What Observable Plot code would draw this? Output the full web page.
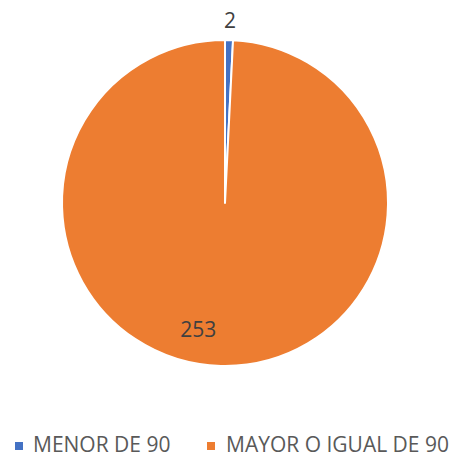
<!DOCTYPE html>
<html>
<head>
<meta charset="utf-8">
<script src="https://cdn.jsdelivr.net/npm/d3@7"></script>
<script src="https://cdn.jsdelivr.net/npm/@observablehq/plot@0.6"></script>
<style>
  html, body { margin: 0; padding: 0; background: #fff; }
  #chart { width: 451px; height: 456px; position: relative; font-family: "Open Sans", sans-serif; overflow: hidden; }
  .legend { position: absolute; left: 0; top: 420px; width: 451px; height: 36px; font-size: 21px; color: #595959; }
  .sw { position: absolute; width: 8px; height: 8px; top: 21.5px; }
  .tx { position: absolute; display: block; top: 13.5px; height: 21px; line-height: 21px; white-space: nowrap; }
</style>
</head>
<body>
<div id="chart"></div>
<script>
const categories = ["MENOR DE 90", "MAYOR O IGUAL DE 90"];
const values = [2, 253];
const colors = ["#4472C4", "#ED7D31"];

const data = categories.map((c, i) => ({category: c, value: values[i], color: colors[i]}));
const pie = d3.pie().sort(null).value(d => d.value)(data);

const W = 451, H = 420;
const labelR = [1.12, 0.78];
const labelDx = [0, -24];
const labels = pie.map((p, i) => {
  const a = (p.startAngle + p.endAngle) / 2;
  return {text: String(p.data.value), x: labelR[i] * Math.sin(a), y: labelR[i] * Math.cos(a), dx: labelDx[i]};
});

function pieMark(index, scales, values, dimensions) {
  const cx = scales.x(0), cy = scales.y(0);
  const r = Math.abs(scales.x(1) - scales.x(0));
  const arc = d3.arc().innerRadius(0).outerRadius(r);
  const g = d3.create("svg:g").attr("transform", `translate(${cx},${cy})`);
  g.selectAll("path").data(pie).join("path")
    .attr("d", arc)
    .attr("fill", d => d.data.color)
    .attr("stroke", "#fff")
    .attr("stroke-width", 2)
    .attr("stroke-linejoin", "round");
  return g.node();
}

const plot = Plot.plot({
  width: W,
  height: H,
  marginLeft: 62,
  marginRight: 63,
  marginTop: 40,
  marginBottom: 54,
  x: {domain: [-1, 1], axis: null},
  y: {domain: [-1, 1], axis: null},
  style: {fontFamily: "Open Sans, sans-serif", background: "#fff"},
  marks: [
    pieMark,
    Plot.text(labels.filter((d, i) => i === 0), {x: "x", y: "y", text: "text", fontSize: 21, fill: "#404040"}),
    Plot.text(labels.filter((d, i) => i === 1), {x: "x", y: "y", text: "text", fontSize: 21, fill: "#404040", dx: labelDx[1]})
  ]
});

const chart = document.getElementById("chart");
chart.appendChild(plot);
const legend = document.createElement("div");
legend.className = "legend";
const swLefts = [15, 207];
const txLefts = [33, 226];
categories.forEach((c, i) => {
  const sw = document.createElement("div");
  sw.className = "sw";
  sw.style.left = swLefts[i] + "px";
  sw.style.background = colors[i];
  const tx = document.createElement("div");
  tx.className = "tx";
  tx.style.left = txLefts[i] + "px";
  tx.textContent = c;
  legend.appendChild(sw); legend.appendChild(tx);
});
chart.appendChild(legend);
</script>
</body>
</html>
